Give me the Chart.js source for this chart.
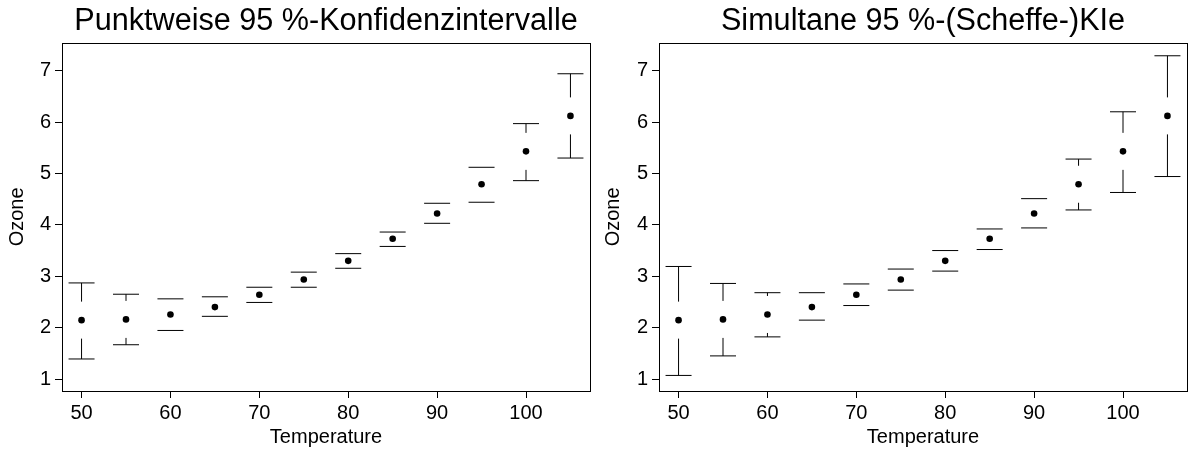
<!DOCTYPE html>
<html>
<head>
<meta charset="utf-8">
<title>Ozone vs Temperature</title>
<script src="https://cdn.jsdelivr.net/npm/chart.js@4.4.1/dist/chart.umd.min.js"></script>
<style>
  html, body { margin: 0; padding: 0; background: #fff; }
  #wrap { position: relative; width: 1191px; height: 450px; }
  canvas { position: absolute; top: 0; }
</style>
</head>
<body>
<div id="wrap">
  <canvas id="pointwise" width="596" height="450" style="left:0"></canvas>
  <canvas id="scheffe" width="595" height="450" style="left:596px"></canvas>
</div>
<script>
// Daten
const temperature = [50, 55, 60, 65, 70, 75, 80, 85, 90, 95, 100, 105];
const fitted = [2.146, 2.16, 2.256, 2.40, 2.64, 2.936, 3.30, 3.73, 4.22, 4.79, 5.43, 6.12];
const pointLower = [1.39, 1.667, 1.945, 2.22, 2.49, 2.786, 3.155, 3.58, 4.03, 4.44, 4.86, 5.30];
const pointUpper = [2.87, 2.65, 2.56, 2.60, 2.786, 3.08, 3.44, 3.86, 4.42, 5.12, 5.97, 6.94];
const scheffeLower = [1.07, 1.45, 1.82, 2.146, 2.43, 2.73, 3.10, 3.52, 3.94, 4.29, 4.63, 4.94];
const scheffeUpper = [3.19, 2.86, 2.68, 2.68, 2.85, 3.14, 3.50, 3.92, 4.51, 5.28, 6.20, 7.29];
const xTicks = [50, 60, 70, 80, 90, 100];
const yTicks = [1, 2, 3, 4, 5, 6, 7];

const FONT = 'Liberation Sans, Arial, Helvetica, sans-serif';

// Fehlerbalken mit Lücke um den Punkt (wie plotCI)
const errorBars = {
    id: 'errorBars',
    afterDatasetsDraw(chart, args, opts) {
        const { ctx, scales: { x, y } } = chart;
        const pts = chart.data.datasets[0].data;
        const capHalf = 13, gap = 18.5;
        ctx.save();
        ctx.strokeStyle = '#000';
        ctx.lineWidth = 1;
        ctx.beginPath();
        pts.forEach((p, i) => {
            const px = x.getPixelForValue(p.x);
            const py = y.getPixelForValue(p.y);
            const pHi = y.getPixelForValue(opts.upper[i]);
            const pLo = y.getPixelForValue(opts.lower[i]);
            ctx.moveTo(px - capHalf, pHi); ctx.lineTo(px + capHalf, pHi);
            ctx.moveTo(px - capHalf, pLo); ctx.lineTo(px + capHalf, pLo);
            if (py - pHi > gap) { ctx.moveTo(px, pHi); ctx.lineTo(px, py - gap); }
            if (pLo - py > gap) { ctx.moveTo(px, pLo); ctx.lineTo(px, py + gap); }
        });
        ctx.stroke();
        ctx.restore();
    }
};

// Rahmen um die Plotfläche
const plotBox = {
    id: 'plotBox',
    afterDraw(chart) {
        const { ctx, chartArea: a } = chart;
        ctx.save();
        ctx.strokeStyle = '#000';
        ctx.lineWidth = 1;
        ctx.strokeRect(Math.round(a.left) + 0.5, Math.round(a.top) + 0.5,
            Math.round(a.right - a.left), Math.round(a.bottom - a.top));
        ctx.restore();
    }
};

const makeChart = (canvasId, title, lower, upper, yWidth, padRight) => {
    const axisFont = { family: FONT, size: 20 };
    return new Chart(document.getElementById(canvasId), {
        type: 'scatter',
        data: {
            datasets: [{
                data: temperature.map((t, i) => ({ x: t, y: fitted[i] })),
                pointRadius: 3.3,
                pointBackgroundColor: '#000',
                pointBorderWidth: 0,
                showLine: false
            }]
        },
        options: {
            responsive: false,
            animation: false,
            events: [],
            layout: { padding: { left: 0, right: padRight, top: 0, bottom: 0 } },
            plugins: {
                legend: { display: false },
                tooltip: { enabled: false },
                title: {
                    display: true,
                    text: title,
                    fullSize: false,
                    color: '#000',
                    font: { family: FONT, size: 30.6, weight: 'normal' },
                    padding: { top: 3, bottom: 3 }
                },
                errorBars: { lower: lower, upper: upper }
            },
            scales: {
                x: {
                    type: 'linear',
                    min: 47.8,
                    max: 107.2,
                    afterBuildTicks: s => { s.ticks = xTicks.map(v => ({ value: v })); },
                    afterFit: s => { s.height = 59; },
                    grid: { drawOnChartArea: false, drawTicks: true, tickLength: 7, color: '#000' },
                    border: { display: false },
                    ticks: { color: '#000', font: axisFont, padding: 3, maxRotation: 0, autoSkip: false },
                    title: { display: true, text: 'Temperature', color: '#000', font: axisFont, padding: { top: 0, bottom: 1 } }
                },
                y: {
                    type: 'linear',
                    min: 0.767,
                    max: 7.544,
                    afterBuildTicks: s => { s.ticks = yTicks.map(v => ({ value: v })); },
                    afterFit: s => { s.width = yWidth; },
                    grid: { drawOnChartArea: false, drawTicks: true, tickLength: 7, color: '#000' },
                    border: { display: false },
                    ticks: { color: '#000', font: axisFont, padding: 4, autoSkip: false },
                    title: { display: true, text: 'Ozone', color: '#000', font: axisFont, padding: { top: 5, bottom: 0 } }
                }
            }
        },
        plugins: [errorBars, plotBox]
    });
};

makeChart('pointwise', 'Punktweise 95 %-Konfidenzintervalle', pointLower, pointUpper, 62, 6);
makeChart('scheffe', 'Simultane 95 %-(Scheffe-)KIe', scheffeLower, scheffeUpper, 63, 4);
</script>
</body>
</html>
